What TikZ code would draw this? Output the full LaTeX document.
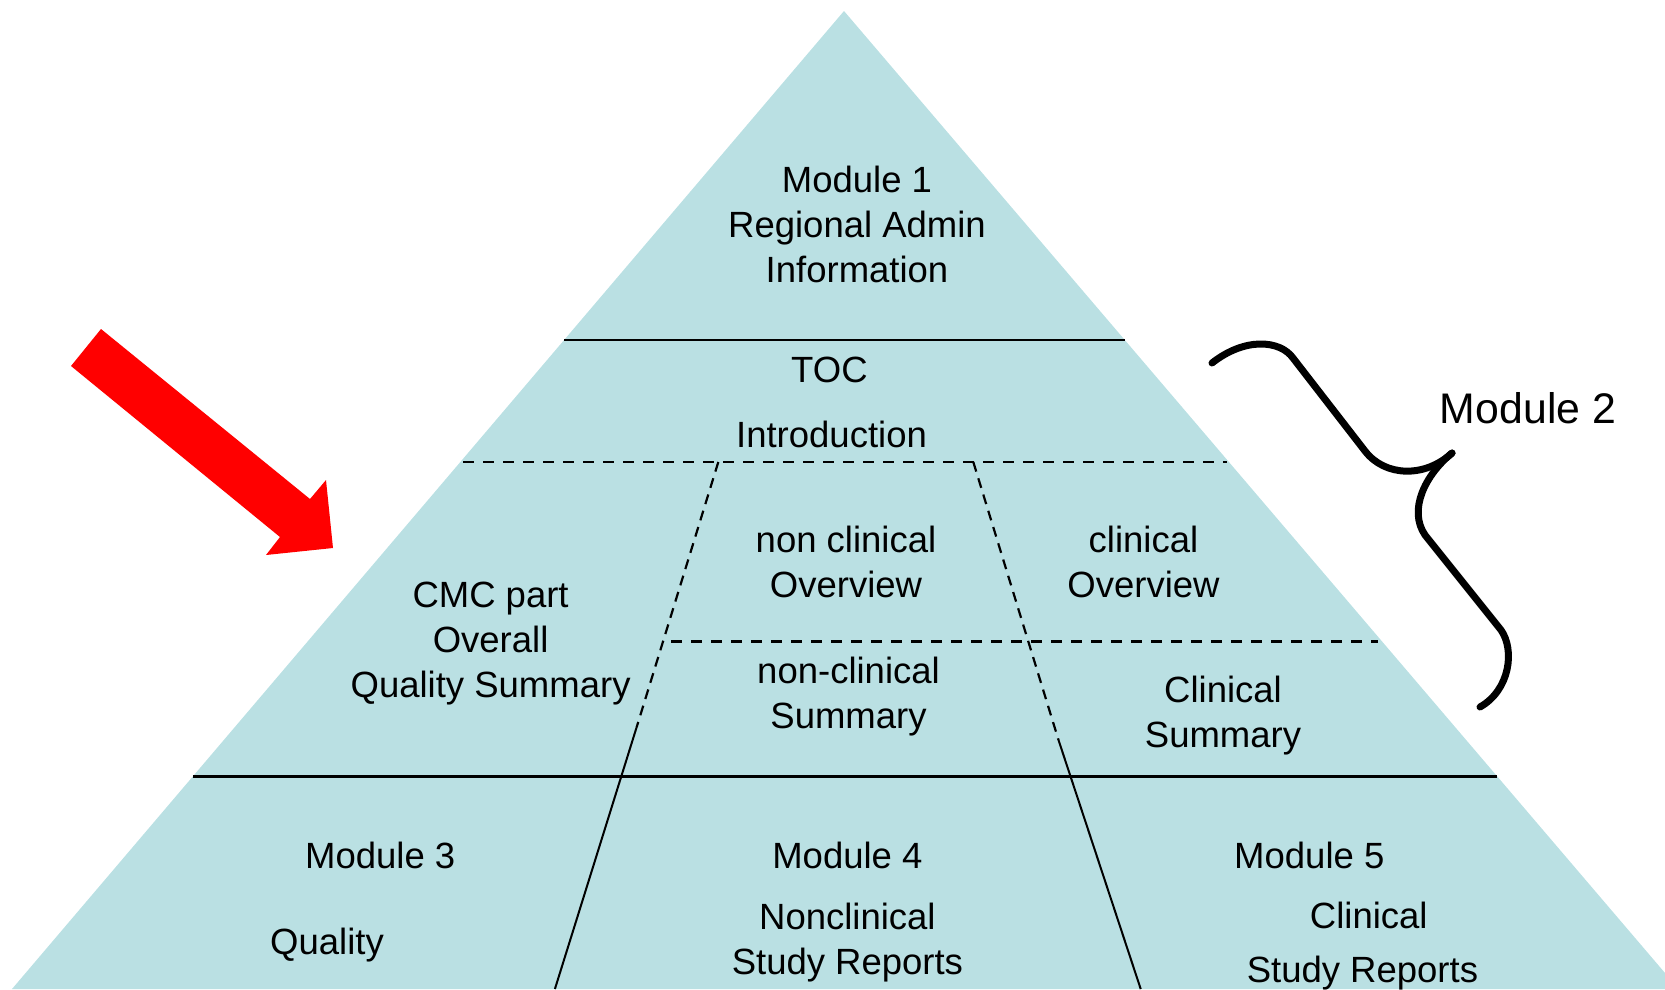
\documentclass[tikz,border=0pt]{standalone}
\usepackage{fontspec}
\setmainfont{Liberation Sans}
\definecolor{pyr}{RGB}{186,224,227}
\begin{document}
\begin{tikzpicture}[x=1pt,y=-1pt,
  lbl/.style={inner sep=0pt, align=center, font=\fontsize{36.5}{45}\selectfont},
  solidln/.style={line width=2.8pt},
  dashln/.style={line width=2.6pt, dash pattern=on 11pt off 9pt},
  slant/.style={line width=2pt},
  slantdash/.style={line width=2.2pt, dash pattern=on 10pt off 7pt}]
\useasboundingbox (0,0) rectangle (1665,989);
% pyramid
\coordinate (apex) at (844,11);
\coordinate (bl) at (12,989);
\coordinate (br) at (1665,989);
\coordinate (brs) at (1665,973);
\fill[pyr] (apex) -- (bl) -- (br) -- (brs) -- cycle;
% horizontal lines
\coordinate (s1l) at (564.1,340); \coordinate (s1r) at (1124.8,340);
\coordinate (d1l) at (463,462); \coordinate (d1r) at (1227,462);
\coordinate (d2l) at (671,641.5); \coordinate (d2r) at (1378,641.5);
\coordinate (s2l) at (192.8,776.5); \coordinate (s2r) at (1497.3,776.5);
\draw[solidln] (s1l) -- (s1r);
\draw[dashln] (d1l) -- (d1r);
\draw[dashln] (d2l) -- (d2r);
\draw[solidln] (s2l) -- (s2r);
% slanted lines
\coordinate (lt) at (718.3,462); \coordinate (lm) at (636.7,727); \coordinate (lb) at (554.9,989);
\coordinate (rt) at (973.3,462); \coordinate (rm) at (1058.5,740); \coordinate (rb) at (1140.7,989);
\draw[slantdash] (lt) -- (lm);
\draw[slant] (lm) -- (lb);
\draw[slantdash] (rt) -- (rm);
\draw[slant] (rm) -- (rb);
% red arrow
\fill[red] (101,329) -- (310,499) -- (326,480) -- (333,548) -- (266,555) -- (280,537) -- (71,366) -- cycle;
% brace
\draw[line width=7pt, line cap=round, line join=round]
  (1212,363) .. controls (1245,337) and (1280,340) .. (1293,358) -- (1365,451)
  .. controls (1385,477) and (1425,478) .. (1452,453);
\draw[line width=7pt, line cap=round, line join=round]
  (1452,453) .. controls (1425,475) and (1408,510) .. (1425,535) -- (1501,630)
  .. controls (1515,650) and (1510,690) .. (1480,707);
% labels
\node[lbl] (m1) at (857,224) {Module 1\\Regional Admin\\Information};
\node[lbl] (toc) at (829.4,370) {TOC};
\node[lbl] (intro) at (831.5,434) {Introduction};
\node[lbl] (nco) at (846,562) {non clinical\\Overview};
\node[lbl] (co) at (1143.5,562) {clinical\\Overview};
\node[lbl] (cmc) at (490.6,643.2) {CMC part\\Overall\\Quality Summary};
\node[lbl] (ncs) at (848.5,696.2) {non-clinical\\Summary};
\node[lbl] (cs) at (1223,715.2) {Clinical\\Summary};
\node[lbl] (m3) at (380.2,855) {Module 3};
\node[lbl] (q) at (327,945.2) {Quality};
\node[lbl] (m4) at (847.4,855) {Module 4};
\node[lbl] (m4t) at (847.4,942.5) {Nonclinical\\Study Reports};
\node[lbl] (m5) at (1309.3,855) {Module 5};
\node[lbl] (m5a) at (1368.8,915.4) {Clinical};
\node[lbl] (m5b) at (1362.4,973.5) {Study Reports};
\node[inner sep=0pt, font=\fontsize{42.8}{50}\selectfont] (m2) at (1528,408) {Module 2};
\end{tikzpicture}
\end{document}
